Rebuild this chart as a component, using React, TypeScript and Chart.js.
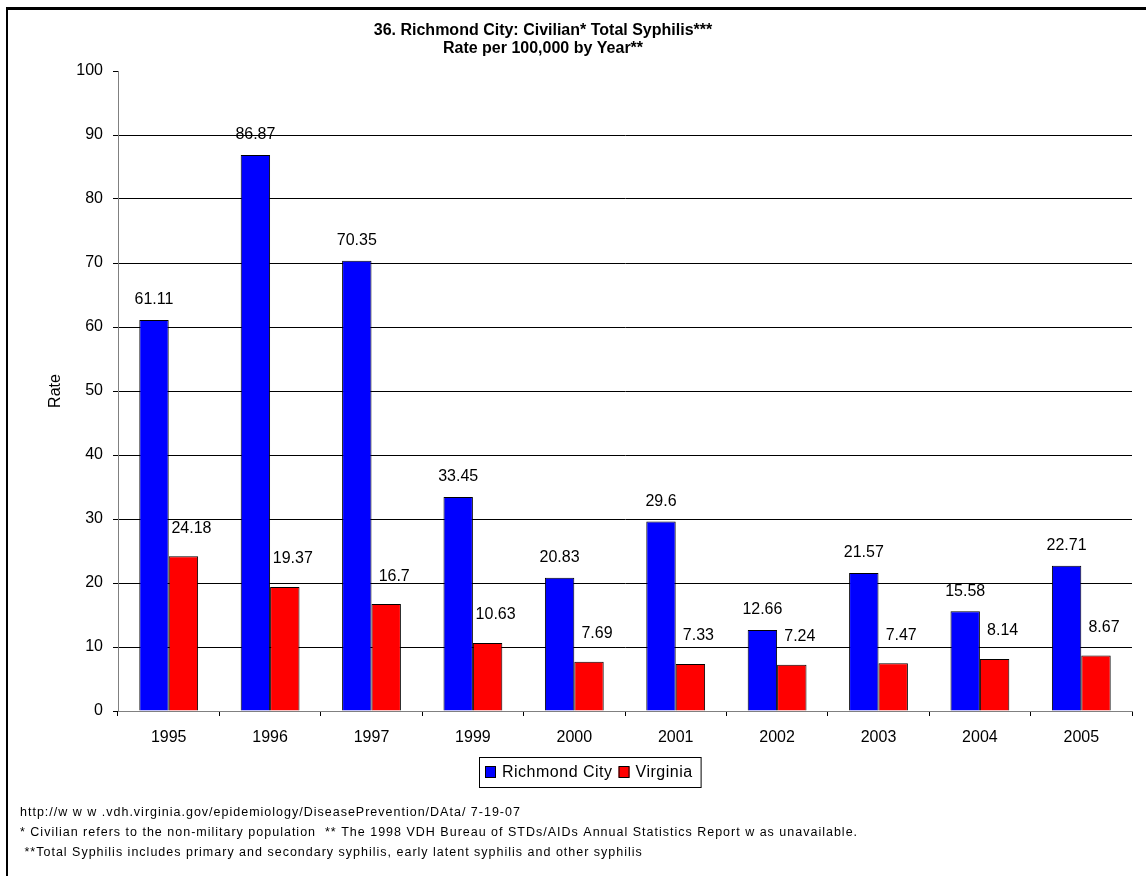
import React, { useEffect, useRef } from 'react';
import { Chart, registerables } from 'chart.js';

Chart.register(...registerables);

const categories = ['1995', '1996', '1997', '1999', '2000', '2001', '2002', '2003', '2004', '2005'];
const richmondCity = [61.11, 86.87, 70.35, 33.45, 20.83, 29.6, 12.66, 21.57, 15.58, 22.71];
const virginia = [24.18, 19.37, 16.7, 10.63, 7.69, 7.33, 7.24, 7.47, 8.14, 8.67];
const seriesNames = ['Richmond City', 'Virginia'];
const seriesColors = ['#0000FF', '#FF0000'];
const yMin = 0;
const yMax = 100;
const yStep = 10;
const titleLines = ['36. Richmond City: Civilian* Total Syphilis***', 'Rate per 100,000 by Year**'];
const yAxisTitle = 'Rate';
const footnotes = [
  'http://w w w .vdh.virginia.gov/epidemiology/DiseasePrevention/DAta/ 7-19-07',
  '* Civilian refers to the non-military population  ** The 1998 VDH Bureau of STDs/AIDs Annual Statistics Report w as unavailable.',
  ' **Total Syphilis includes primary and secondary syphilis, early latent syphilis and other syphilis',
];

const FONT = '"Liberation Sans", Arial, sans-serif';
const W = 1146;
const H = 876;

const labelOffsets = [
  { dx: 0, dy: -20 },
  { dx: 8, dy: -28 },
];

const decorPlugin = {
  id: 'decor',
  afterDatasetsDraw(chart: any) {
    const ctx = chart.ctx;
    ctx.save();
    ctx.font = `16px ${FONT}`;
    ctx.fillStyle = '#000';
    ctx.textAlign = 'center';
    ctx.textBaseline = 'middle';
    chart.data.datasets.forEach((ds: any, di: number) => {
      const meta = chart.getDatasetMeta(di);
      const off = labelOffsets[di];
      meta.data.forEach((bar: any, i: number) => {
        ctx.fillText(String(ds.data[i]), bar.x + off.dx, bar.y + off.dy);
      });
    });
    ctx.restore();
  },
  afterDraw(chart: any) {
    const ctx = chart.ctx;
    const area = chart.chartArea;
    ctx.save();
    // outer frame
    ctx.fillStyle = '#000';
    ctx.fillRect(6, 7, chart.width, 3);
    ctx.fillRect(6, 7, 2, chart.height);

    // title
    ctx.font = `bold 16px ${FONT}`;
    ctx.textAlign = 'center';
    ctx.textBaseline = 'middle';
    titleLines.forEach((t, i) => ctx.fillText(t, 543, 31 + i * 18));

    // y axis title
    ctx.save();
    ctx.translate(56, (area.top + area.bottom) / 2);
    ctx.rotate(-Math.PI / 2);
    ctx.font = `16px ${FONT}`;
    ctx.fillText(yAxisTitle, 0, 0);
    ctx.restore();

    // legend
    ctx.font = `16px ${FONT}`;
    ctx.textAlign = 'left';
    (ctx as any).letterSpacing = '0.5px';
    const boxLeft = 479;
    const boxTop = 757;
    const boxH = 30;
    let x = boxLeft + 6;
    const cy = boxTop + boxH / 2;
    chart.data.datasets.forEach((ds: any) => {
      ctx.fillStyle = ds.backgroundColor;
      ctx.fillRect(x, cy - 5.5, 11, 11);
      ctx.strokeStyle = '#000';
      ctx.lineWidth = 1;
      ctx.strokeRect(x + 0.5, cy - 5.5, 10, 11);
      ctx.fillStyle = '#000';
      ctx.fillText(ds.label, x + 17, cy + 1);
      x += 17 + ctx.measureText(ds.label).width + 6;
    });
    ctx.strokeStyle = '#000';
    ctx.lineWidth = 1;
    ctx.strokeRect(boxLeft + 0.5, boxTop + 0.5, x - boxLeft + 2, boxH);

    // footnotes
    ctx.font = `12.5px ${FONT}`;
    (ctx as any).letterSpacing = '1px';
    ctx.fillStyle = '#000';
    footnotes.forEach((t, i) => ctx.fillText(t, 20, 813 + i * 20));
    ctx.restore();
  },
};

export default function App() {
  const ref = useRef<HTMLCanvasElement | null>(null);

  useEffect(() => {
    if (!ref.current) return;
    const chart = new Chart(ref.current, {
      type: 'bar',
      data: {
        labels: categories,
        datasets: [
          {
            label: seriesNames[0],
            data: richmondCity,
            backgroundColor: seriesColors[0],
            borderColor: '#000',
            borderWidth: 1,
            categoryPercentage: 0.58,
            barPercentage: 1,
          },
          {
            label: seriesNames[1],
            data: virginia,
            backgroundColor: seriesColors[1],
            borderColor: '#000',
            borderWidth: 1,
            categoryPercentage: 0.58,
            barPercentage: 1,
          },
        ],
      },
      options: {
        responsive: false,
        animation: false,
        devicePixelRatio: 1,
        layout: { padding: { left: 0, top: 71, right: 14, bottom: 125 } },
        plugins: {
          legend: { display: false },
          title: { display: false },
          tooltip: { enabled: false },
        },
        scales: {
          x: {
            afterFit: (s: any) => { s.height = 40; },
            grid: { offset: true, drawOnChartArea: false, tickLength: 5, color: '#000' },
            border: { color: '#808080', width: 1 },
            ticks: { color: '#000', font: { family: FONT, size: 16 }, padding: 12 },
          },
          y: {
            min: yMin,
            max: yMax,
            afterFit: (s: any) => { s.width = 118; },
            grid: {
              color: (c: any) => (c.tick && c.tick.value === yMax ? 'rgba(0,0,0,0)' : '#000'),
              tickColor: '#000',
              tickLength: 5,
            },
            border: { color: '#808080', width: 1 },
            ticks: { stepSize: yStep, color: '#000', font: { family: FONT, size: 16 }, padding: 10 },
          },
        },
      },
      plugins: [decorPlugin],
    });
    return () => chart.destroy();
  }, []);

  return (
    <div style={{ position: 'absolute', left: 0, top: 0, width: W, height: H, background: '#fff' }}>
      <canvas ref={ref} width={W} height={H} style={{ display: 'block' }} />
    </div>
  );
}
